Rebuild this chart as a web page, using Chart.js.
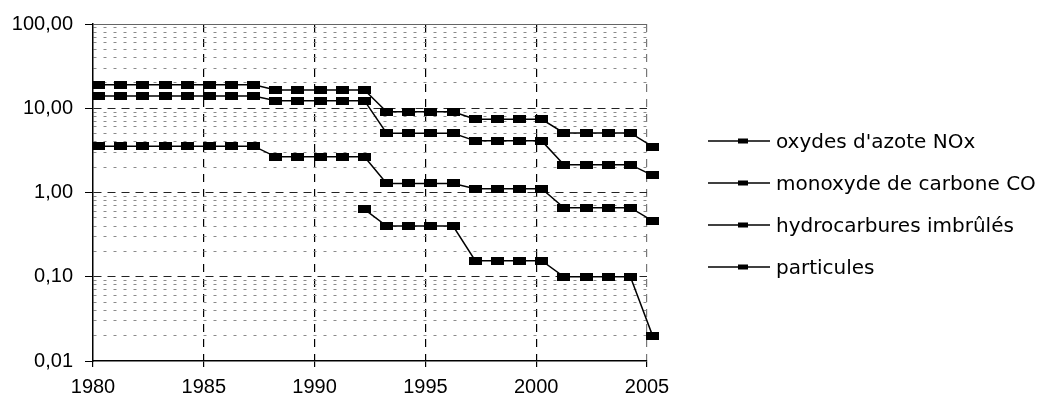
<!DOCTYPE html>
<html>
<head>
<meta charset="utf-8">
<script src="https://cdn.jsdelivr.net/npm/chart.js@4/dist/chart.umd.min.js"></script>
<style>
  html, body { margin: 0; padding: 0; background: #fff; }
  #wrap { position: relative; width: 1039px; height: 397px; }
  #chart { position: absolute; left: 0; top: 0; }
  #legend { position: absolute; left: 708px; top: 0; font-family: "DejaVu Sans", sans-serif; font-size: 20px; color: #000; }
  .item { position: absolute; left: 0; white-space: nowrap; height: 26px; line-height: 26px; }
  .item canvas { position: absolute; left: 0; top: 9px; }
  .item span { position: absolute; left: 68px; top: 0; }
</style>
</head>
<body>
<div id="wrap">
  <canvas id="chart" width="1039" height="397"></canvas>
  <div id="legend"></div>
</div>
<script>
// Year positions of the points (marks sit slightly after each year tick)
const yearPositions = [1980.25, 1981.25, 1982.25, 1983.25, 1984.25, 1985.25, 1986.25, 1987.25, 1988.25, 1989.25,
                       1990.25, 1991.25, 1992.25, 1993.25, 1994.25, 1995.25, 1996.25, 1997.25, 1998.25, 1999.25,
                       2000.25, 2001.25, 2002.25, 2003.25, 2004.25, 2005.25];
const seriesNames = ["oxydes d'azote NOx", "monoxyde de carbone CO", "hydrocarbures imbrûlés", "particules"];
const noxValues = [19, 19, 19, 19, 19, 19, 19, 19, 16.5, 16.5, 16.5, 16.5, 16.5,
                   9.1, 9.1, 9.1, 9.1, 7.4, 7.4, 7.4, 7.4, 5.1, 5.1, 5.1, 5.1, 3.5];
const coValues = [14, 14, 14, 14, 14, 14, 14, 14, 12.3, 12.3, 12.3, 12.3, 12.3,
                  5.05, 5.05, 5.05, 5.05, 4.1, 4.1, 4.1, 4.1, 2.14, 2.14, 2.14, 2.14, 1.6];
const hcValues = [3.55, 3.55, 3.55, 3.55, 3.55, 3.55, 3.55, 3.55, 2.65, 2.65, 2.65, 2.65, 2.65,
                  1.28, 1.28, 1.28, 1.28, 1.11, 1.11, 1.11, 1.11, 0.66, 0.66, 0.66, 0.66, 0.46];
const particleValues = [null, null, null, null, null, null, null, null, null, null, null, null, 0.63,
                        0.40, 0.40, 0.40, 0.40, 0.155, 0.155, 0.155, 0.155, 0.10, 0.10, 0.10, 0.10, 0.02];
const xTickYears = [1980, 1985, 1990, 1995, 2000, 2005];
const yMajorTicks = [0.01, 0.1, 1, 10, 100];

function rectMarker(w, h) {
  const c = document.createElement('canvas');
  c.width = w; c.height = h;
  const g = c.getContext('2d');
  g.fillStyle = '#000';
  g.fillRect(0, 0, w, h);
  return c;
}
const marker = rectMarker(13, 8);

function toPoints(vals) {
  return vals.map((v, i) => ({ x: yearPositions[i], y: v }));
}
const allSeries = [noxValues, coValues, hcValues, particleValues];

const datasets = allSeries.map((vals, i) => ({
  label: seriesNames[i],
  data: toPoints(vals),
  borderColor: '#000',
  backgroundColor: '#000',
  borderWidth: 1.5,
  pointStyle: marker,
  pointRadius: 5,
  tension: 0,
  clip: false,
  spanGaps: false
}));

function isMajor(v) {
  return yMajorTicks.some(m => Math.abs(v - m) < m * 1e-6);
}

const tickFont = { family: '"Liberation Sans", Arial, sans-serif', size: 20 };

new Chart(document.getElementById('chart'), {
  type: 'line',
  data: { datasets },
  options: {
    responsive: false,
    animation: false,
    devicePixelRatio: 1,
    layout: { padding: { left: 0, top: 24, right: 392, bottom: 0 } },
    plugins: { legend: { display: false }, tooltip: { enabled: false } },
    scales: {
      x: {
        type: 'linear',
        min: 1980,
        max: 2005,
        afterBuildTicks: (s) => { s.ticks = xTickYears.map(v => ({ value: v })); },
        afterFit: (s) => { s.height = 36; },
        ticks: {
          color: '#000',
          font: tickFont,
          padding: 8,
          maxRotation: 0,
          autoSkip: false,
          callback: (v) => String(v)
        },
        grid: {
          color: (ctx) => {
            if (!ctx.tick) return 'rgba(0,0,0,0)';
            if (ctx.tick.value === 1980) return 'rgba(0,0,0,0)';
            if (ctx.tick.value === 2005) return '#777';
            return '#000';
          },
          lineWidth: 1.2,
          tickLength: 6,
          tickColor: '#000'
        },
        border: {
          display: true,
          color: '#000',
          width: 1.5,
          dash: (ctx) => ctx.tick ? [8, 7] : []
        }
      },
      y: {
        type: 'logarithmic',
        min: 0.01,
        max: 100,
        afterBuildTicks: (s) => {
          const t = [];
          for (let e = -2; e <= 1; e++) {
            for (let m = 1; m <= 9; m++) t.push({ value: m * Math.pow(10, e) });
          }
          t.push({ value: 100 });
          s.ticks = t;
        },
        afterFit: (s) => { s.width = 93; },
        ticks: {
          color: '#000',
          font: tickFont,
          padding: 12,
          autoSkip: false,
          callback: (v) => isMajor(v) ? v.toFixed(2).replace('.', ',') : ''
        },
        grid: {
          color: (ctx) => {
            if (!ctx.tick) return 'rgba(0,0,0,0)';
            const v = ctx.tick.value;
            if (Math.abs(v - 0.01) < 1e-9) return 'rgba(0,0,0,0)';
            if (Math.abs(v - 100) < 1e-6) return '#666';
            return isMajor(v) ? '#222' : '#8a8a8a';
          },
          lineWidth: 1,
          tickLength: 8,
          tickColor: (ctx) => (ctx.tick && isMajor(ctx.tick.value)) ? '#000' : 'rgba(0,0,0,0)'
        },
        border: {
          display: true,
          color: '#000',
          width: 1.5,
          dash: (ctx) => {
            if (!ctx.tick) return [];
            const v = ctx.tick.value;
            if (Math.abs(v - 100) < 1e-6) return [];
            return isMajor(v) ? [8, 6] : [3, 7];
          }
        }
      }
    }
  }
});

// Legend (line + marker symbol, real text)
const legendY = [141, 183, 225, 267];
const legendEl = document.getElementById('legend');
seriesNames.forEach((name, i) => {
  const item = document.createElement('div');
  item.className = 'item';
  item.style.top = (legendY[i] - 13) + 'px';
  const sym = document.createElement('canvas');
  sym.width = 64; sym.height = 8;
  const g = sym.getContext('2d');
  g.strokeStyle = '#000';
  g.lineWidth = 1.5;
  g.beginPath(); g.moveTo(0, 4); g.lineTo(62, 4); g.stroke();
  g.fillStyle = '#000';
  g.fillRect(30, 1.5, 10, 5);
  const txt = document.createElement('span');
  txt.textContent = name;
  item.appendChild(sym);
  item.appendChild(txt);
  legendEl.appendChild(item);
});
</script>
</body>
</html>
